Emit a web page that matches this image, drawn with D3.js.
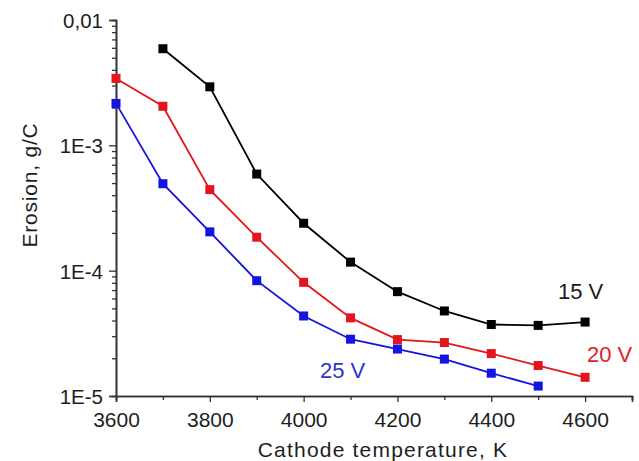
<!DOCTYPE html>
<html>
<head>
<meta charset="utf-8">
<script src="https://cdn.jsdelivr.net/npm/d3@7"></script>
<style>
  html, body { margin: 0; padding: 0; background: #fff; }
  svg { display: block; font-family: "Liberation Sans", Arial, sans-serif; }
</style>
</head>
<body>
<svg id="chart" width="639" height="461"></svg>
<script>
// Cathode temperature, K
const temps15 = [3700, 3800, 3900, 4000, 4100, 4200, 4300, 4400, 4500, 4600];
const temps20 = [3600, 3700, 3800, 3900, 4000, 4100, 4200, 4300, 4400, 4500, 4600];
const temps25 = [3600, 3700, 3800, 3900, 4000, 4100, 4200, 4300, 4400, 4500];

// Erosion, g/C
const erosion15 = [5.9e-3, 2.93e-3, 5.9e-4, 2.39e-4, 1.17e-4, 6.8e-5, 4.77e-5, 3.72e-5, 3.66e-5, 3.89e-5];
const erosion20 = [3.42e-3, 2.05e-3, 4.43e-4, 1.85e-4, 8.07e-5, 4.2e-5, 2.82e-5, 2.67e-5, 2.18e-5, 1.75e-5, 1.41e-5];
const erosion25 = [2.16e-3, 4.94e-4, 2.04e-4, 8.32e-5, 4.35e-5, 2.84e-5, 2.37e-5, 1.97e-5, 1.52e-5, 1.2e-5];

const seriesNames = ["15 V", "20 V", "25 V"];

const xTicks = [3600, 3800, 4000, 4200, 4400, 4600];
const xMinorTicks = [3700, 3900, 4100, 4300, 4500, 4700];
const yTicks = [1e-5, 1e-4, 1e-3, 1e-2];
const yTickLabels = ["1E-5", "1E-4", "1E-3", "0,01"];

const svg = d3.select("#chart");

const x = d3.scaleLinear().domain([3600, 4700]).range([116, 632]);
const y = d3.scaleLog().domain([1e-5, 1e-2]).range([396, 20]);

const axisColor = "#333";
const textColor = "#1e1e1e";
const fontFamily = "Liberation Sans, Arial, sans-serif";

// minor log ticks: 2..9 of each decade
const yMinor = [];
for (let e = -5; e < -2; e++) {
  for (let m = 2; m <= 9; m++) yMinor.push(m * Math.pow(10, e));
}

// y axis
const gy = svg.append("g").attr("transform", `translate(${x(3600)},0)`);
gy.call(d3.axisLeft(y).tickValues(yMinor).tickSize(4).tickFormat(""));
gy.call(g => g.append("g").call(
  d3.axisLeft(y).tickValues(yTicks).tickSize(7).tickPadding(6)
    .tickFormat((d, i) => yTickLabels[i])
));
gy.selectAll("path.domain").attr("stroke", axisColor).attr("stroke-width", 1.6);
gy.selectAll("line").attr("stroke", axisColor).attr("stroke-width", 1.3);
gy.selectAll("text").attr("font-size", 20.5).attr("fill", textColor)
  .attr("font-family", fontFamily).attr("dy", "0.36em");

// x axis
const gx = svg.append("g").attr("transform", `translate(0,${y(1e-5)})`);
gx.call(d3.axisBottom(x).tickValues(xMinorTicks).tickSize(4).tickFormat(""));
gx.call(g => g.append("g").call(
  d3.axisBottom(x).tickValues(xTicks).tickSize(6).tickPadding(10).tickFormat(d3.format("d"))
));
gx.selectAll("path.domain").attr("stroke", axisColor).attr("stroke-width", 1.6);
gx.selectAll("line").attr("stroke", axisColor).attr("stroke-width", 1.3);
gx.selectAll("text").attr("font-size", 21).attr("fill", textColor)
  .attr("font-family", fontFamily);

// axis titles
svg.append("text")
  .attr("x", 383).attr("y", 457)
  .attr("text-anchor", "middle")
  .attr("font-size", 21)
  .attr("letter-spacing", 1.2)
  .attr("fill", textColor)
  .text("Cathode temperature, K");

svg.append("text")
  .attr("transform", "translate(37,185) rotate(-90)")
  .attr("text-anchor", "middle")
  .attr("font-size", 21)
  .attr("letter-spacing", 0.8)
  .attr("fill", textColor)
  .text("Erosion, g/C");

// series
const series = [
  { name: seriesNames[0], xs: temps15, ys: erosion15, color: "#000000", labelColor: "#1a1a1a", lx: 558, ly: 299 },
  { name: seriesNames[1], xs: temps20, ys: erosion20, color: "#e3161d", labelColor: "#e3202a", lx: 587, ly: 362 },
  { name: seriesNames[2], xs: temps25, ys: erosion25, color: "#1414e0", labelColor: "#3232cc", lx: 320, ly: 378 }
];

const line = d3.line().x(d => x(d[0])).y(d => y(d[1]));
const ms = 9;

series.forEach(s => {
  const pts = s.xs.map((t, i) => [t, s.ys[i]]);
  const g = svg.append("g");
  g.append("path")
    .attr("d", line(pts))
    .attr("fill", "none")
    .attr("stroke", s.color)
    .attr("stroke-width", 1.8);
  g.selectAll("rect").data(pts).join("rect")
    .attr("x", d => x(d[0]) - ms / 2)
    .attr("y", d => y(d[1]) - ms / 2)
    .attr("width", ms).attr("height", ms)
    .attr("fill", s.color);
  svg.append("text")
    .attr("x", s.lx).attr("y", s.ly)
    .attr("font-size", 22)
    .attr("fill", s.labelColor)
    .text(s.name);
});
</script>
</body>
</html>
